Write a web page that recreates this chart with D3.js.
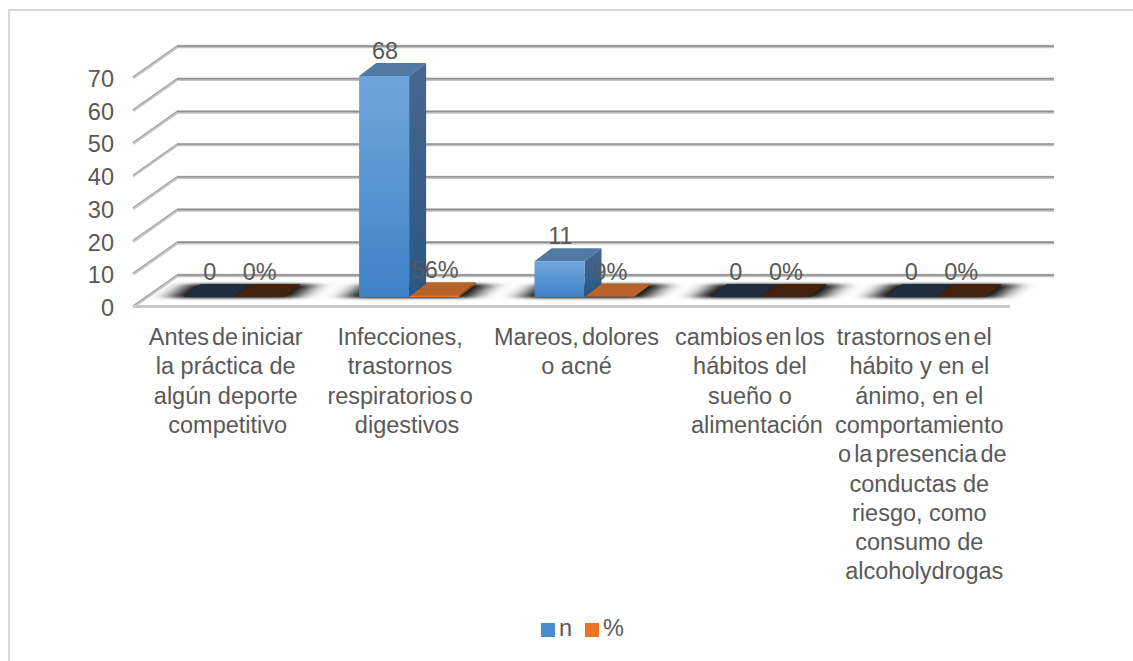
<!DOCTYPE html>
<html><head><meta charset="utf-8">
<style>html,body{margin:0;padding:0;background:#fff}svg{display:block}text{font-family:"Liberation Sans",Arial,sans-serif;fill:#595959}</style>
<script src="https://cdn.jsdelivr.net/npm/d3@7/dist/d3.min.js"></script>
</head><body><div id="c"></div>
<script>
const categories=["Antes de iniciar la práctica","Infecciones","Mareos","cambios","trastornos"];
const categoryLines=[
 ["Antes de iniciar","la práctica de","algún deporte","competitivo"],
 ["Infecciones,","trastornos","respiratorios o","digestivos"],
 ["Mareos, dolores","o acné"],
 ["cambios en los","hábitos del","sueño o","alimentación"],
 ["trastornos en el","hábito y en el","ánimo, en el","comportamiento","o la presencia de","conductas de","riesgo, como","consumo de","alcoholydrogas"]
];
const tightLines=["Antes de iniciar","respiratorios o","Mareos, dolores","cambios en los","trastornos en el","o la presencia de"];
const nValues=[0,68,11,0,0];
const pctValues=[0,0.56,0.09,0,0];
const pctLabels=["0%","56%","9%","0%","0%"];
const yTicks=[0,10,20,30,40,50,60,70];
const seriesNames=["n","%"];

const W=1133,H=661,FS=23.5;
const lineNudge={"digestivos":7,"alimentación":7,"alcoholydrogas":5,"trastornos en el":-5,"o la presencia de":3,"competitivo":2};
const svg=d3.select("#c").append("svg").attr("width",W).attr("height",H);
const defs=svg.append("defs");
const grad=(id,a,b)=>{const g=defs.append("linearGradient").attr("id",id).attr("x1",0).attr("y1",0).attr("x2",0).attr("y2",1);
 g.append("stop").attr("offset",0).attr("stop-color",a);g.append("stop").attr("offset",1).attr("stop-color",b);};
grad("bf","#70a5dc","#3f82c6");grad("bs","#47688f","#2a5783");
defs.append("filter").attr("id","sh").attr("x","-50%").attr("y","-100%").attr("width","200%").attr("height","300%")
 .append("feGaussianBlur").attr("stdDeviation","11 1.5");

// frame
svg.append("path").attr("d",`M9,${H}V10H${W}`).attr("fill","none").attr("stroke","#d9d9d9").attr("stroke-width",2);

const floorL=133,floorR=1010,floorY=306;
const depth={x:44,y:-31}, inset={x:13,y:-9}, bd={x:17,y:-13};
const x=d3.scaleBand().domain(categories).range([floorL,floorR]).paddingInner(.43).paddingOuter(.215);
const y=d3.scaleLinear().domain([0,70]).range([floorY,floorY-229]);
const barH=d3.scaleLinear().domain([0,70]).range([0,227.5]);
const sub=d3.scaleBand().domain(seriesNames).range([0,x.bandwidth()]);

// gridlines
const grid=svg.append("g").attr("class","grid");
yTicks.forEach(t=>{
 const fy=y(t);
 grid.append("line").attr("x1",floorL).attr("y1",fy+1).attr("x2",floorL+depth.x).attr("y2",fy+depth.y+1).attr("stroke","#c8c8c8").attr("stroke-width",3);
 grid.append("line").attr("x1",floorL).attr("y1",fy).attr("x2",floorL+depth.x).attr("y2",fy+depth.y).attr("stroke","#a8a8a8").attr("stroke-width",1.2);
 grid.append("line").attr("x1",floorL+depth.x).attr("y1",fy+depth.y+.5).attr("x2",floorR+depth.x).attr("y2",fy+depth.y+.5).attr("stroke","#c4c4c4").attr("stroke-width",3.4);
 grid.append("line").attr("x1",floorL+depth.x).attr("y1",fy+depth.y).attr("x2",floorR+depth.x).attr("y2",fy+depth.y).attr("stroke","#8f8f8f").attr("stroke-width",1.4);
});
grid.append("line").attr("x1",floorL).attr("y1",floorY+.5).attr("x2",floorR).attr("y2",floorY+.5).attr("stroke","#c8c8c8").attr("stroke-width",3);

// shadows
const bars=svg.append("g");
categories.forEach(c=>{
 const x0=x(c)+inset.x, by=floorY+inset.y+1;
 bars.append("path").attr("filter","url(#sh)").attr("fill","#000")
  .attr("d",`M${x0-14},${by}L${x0+bd.x-12},${by+bd.y-1}H${x0+x.bandwidth()+bd.x+14}L${x0+x.bandwidth()+12},${by}Z`);
});

function bar(cat,name,v,cols){
 const xl=x(cat)+inset.x+sub(name), w=sub.bandwidth();
 const yb=floorY+inset.y, yt=yb-barH(v);
 const g=bars.append("g");
 g.append("path").attr("fill",cols.top).attr("d",`M${xl},${yt}l${bd.x},${bd.y}h${w}l${-bd.x},${-bd.y}Z`);
 if(v>0.2) g.append("path").attr("fill",cols.side).attr("d",`M${xl+w},${yt}l${bd.x},${bd.y}V${yb+bd.y}L${xl+w},${yb}Z`);
 if(yb-yt>0.5) g.append("rect").attr("x",xl).attr("y",yt).attr("width",w).attr("height",yb-yt).attr("fill",cols.front);
}
categories.forEach((c,i)=>{
 if(pctValues[i]>0) bar(c,"%",pctValues[i],{top:"#b8622c",side:"#9a5022",front:"#e8792f"});
 else bar(c,"%",0,{top:"#43220f",side:"#43220f",front:"#43220f"});
 if(nValues[i]>0) bar(c,"n",nValues[i],{top:"#5279a4",side:"url(#bs)",front:"url(#bf)"});
 else bar(c,"n",0,{top:"#1f2d3e",side:"#1f2d3e",front:"#1f2d3e"});
});

// data labels
const lab=svg.append("g").attr("font-size",FS).attr("text-anchor","middle");
categories.forEach((c,i)=>{
 const yb=floorY+inset.y+bd.y;
 const base=x(c)+inset.x;
 lab.append("text").attr("x",base+sub("n")+sub.bandwidth()/2+1).attr("y",yb-barH(nValues[i])-4).text(nValues[i]);
 lab.append("text").attr("x",base+sub("%")+sub.bandwidth()/2+1).attr("y",yb-barH(pctValues[i])-4).text(pctLabels[i]);
});

// y axis
const ax=svg.append("g").attr("transform","translate(114,2)").call(d3.axisLeft(y).tickValues(yTicks).tickSize(0).tickPadding(0));
ax.select(".domain").remove();
ax.selectAll("text").attr("font-size",FS).attr("fill","#595959").style("font-family",'"Liberation Sans",Arial,sans-serif');

// category labels
const cl=svg.append("g").attr("font-size",FS).attr("text-anchor","middle");
const labelShift=[5,4,5,3,-3];
categories.forEach((c,i)=>{
 const t=cl.append("text");
 categoryLines[i].forEach((s,j)=>{
  t.append("tspan").attr("x",x(c)+x.bandwidth()/2+labelShift[i]+(lineNudge[s]||0)).attr("y",345+j*29.3)
   .attr("word-spacing",tightLines.includes(s)?-3.5:0).text(s);
 });
});

// legend
const lg=svg.append("g");
const legendX=d3.scalePoint().domain(seriesNames).range([541,585]);
const legendCol={n:"#4a8ccf","%":"#ec7425"};
seriesNames.forEach(s=>{
 lg.append("rect").attr("x",legendX(s)).attr("y",623).attr("width",14).attr("height",14).attr("fill",legendCol[s]);
 lg.append("text").attr("x",legendX(s)+18).attr("y",636).attr("font-size",FS).text(s);
});
</script></body></html>
